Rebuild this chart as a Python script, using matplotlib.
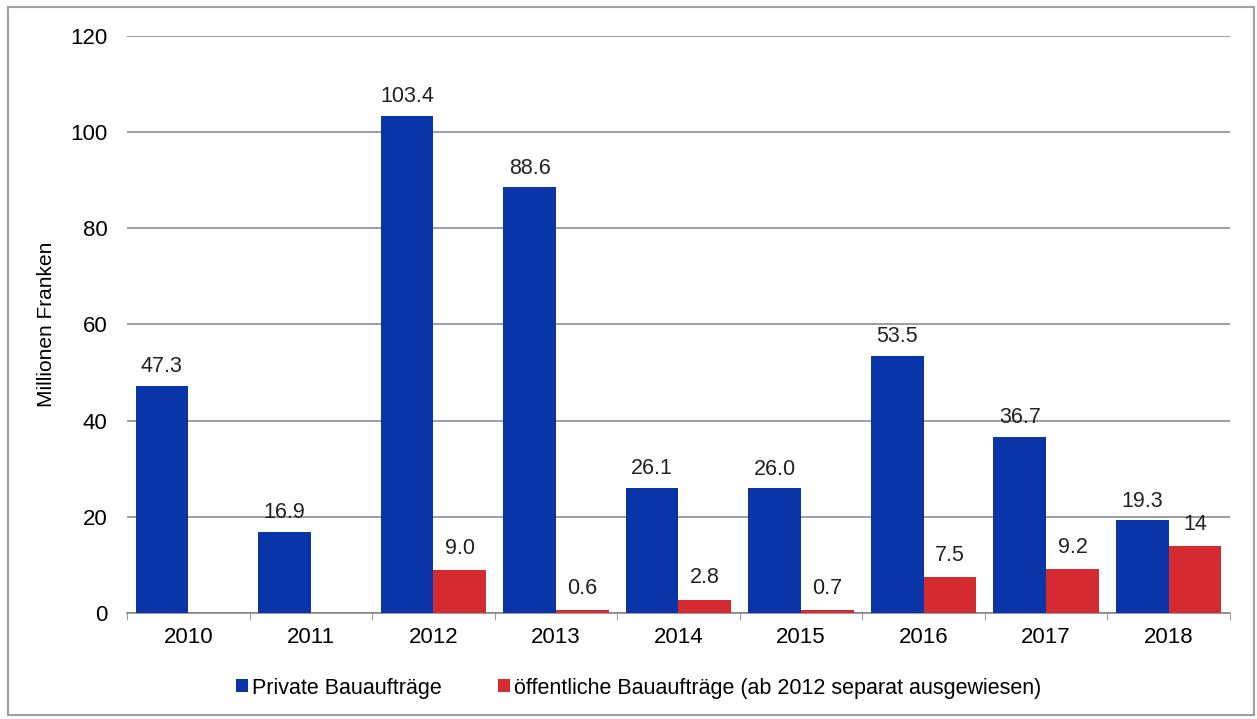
import matplotlib
matplotlib.use("Agg")
import matplotlib.pyplot as plt
import numpy as np
from matplotlib.patches import Rectangle

years = ["2010", "2011", "2012", "2013", "2014", "2015", "2016", "2017", "2018"]
private = [47.3, 16.9, 103.4, 88.6, 26.1, 26.0, 53.5, 36.7, 19.3]
public = [0, 0, 9.0, 0.6, 2.8, 0.7, 7.5, 9.2, 14]
public_labels = [None, None, "9.0", "0.6", "2.8", "0.7", "7.5", "9.2", "14"]
private_labels = ["47.3", "16.9", "103.4", "88.6", "26.1", "26.0", "53.5", "36.7", "19.3"]
yticks = [0, 20, 40, 60, 80, 100, 120]

BLUE = "#0a35a8"
RED = "#d42a30"
plt.rcParams['font.family'] = ['Liberation Sans', 'DejaVu Sans']

fig = plt.figure(figsize=(12.57, 7.19), dpi=100)
fig.patches.append(Rectangle((0.006, 0.006), 0.992, 0.984, transform=fig.transFigure,
                             fill=False, edgecolor="#a0a0a0", linewidth=1.5))
ax = fig.add_axes([0.101, 0.1474, 0.8775, 0.8026])

x = np.arange(len(years))
w = 0.43
b1 = ax.bar(x - w / 2, private, w, color=BLUE, label="Private Bauaufträge", zorder=3)
b2 = ax.bar(x + w / 2, public, w, color=RED,
            label="öffentliche Bauaufträge (ab 2012 separat ausgewiesen)", zorder=3)

FS = 15.5
for i, r in enumerate(b1):
    ax.annotate(private_labels[i], (r.get_x() + r.get_width() / 2, r.get_height()),
                xytext=(0, 6), textcoords="offset points", ha="center", va="bottom",
                fontsize=FS, color="#222222")
for i, r in enumerate(b2):
    if public_labels[i]:
        ax.annotate(public_labels[i], (r.get_x() + r.get_width() / 2, r.get_height()),
                    xytext=(0, 8), textcoords="offset points", ha="center", va="bottom",
                    fontsize=FS, color="#222222")

ax.set_xlim(-0.5, len(years) - 0.5)
ax.set_ylim(0, 120)
ax.set_yticks(yticks)
ax.set_yticklabels([str(v) for v in yticks], fontsize=16)
ax.set_xticks(x)
ax.set_xticklabels(years, fontsize=16)
ax.set_xticks(np.arange(len(years) + 1) - 0.5, minor=True)
ax.tick_params(axis="x", which="major", length=0, pad=10)
ax.tick_params(axis="x", which="minor", length=5, color="#888888")
ax.tick_params(axis="y", length=0, pad=14)
ax.grid(axis="y", color="#8c8c8c", linewidth=1.2, zorder=0)
for s in ["top", "right", "left"]:
    ax.spines[s].set_visible(False)
ax.spines["bottom"].set_color("#888888")
ax.spines["bottom"].set_linewidth(1.2)
ax.set_ylabel("Millionen Franken", fontsize=15, labelpad=10)

fig.legend(handles=[b1, b2], loc="center", bbox_to_anchor=(0.508, 0.043), ncol=2,
           frameon=False, fontsize=15.5, handlelength=0.55, handleheight=0.55,
           handletextpad=0.2, columnspacing=2.6)

fig.savefig("out.png", dpi=100)
